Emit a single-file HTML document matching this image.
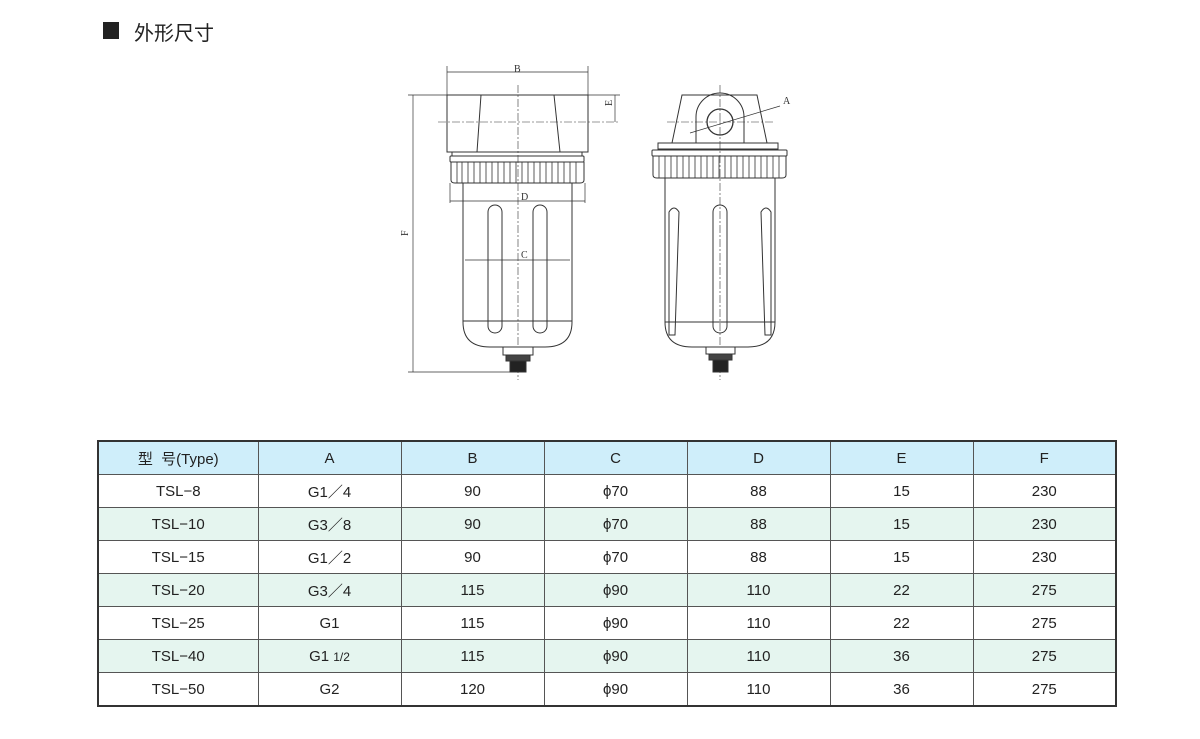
<!DOCTYPE html>
<html><head><meta charset="utf-8"><style>
body{margin:0;background:#fff;width:1200px;height:739px;position:relative;overflow:hidden;font-family:"Liberation Sans","Noto Sans CJK SC",sans-serif}
.t{position:absolute;left:134px;top:17px;font-size:20px;color:#222}
.sq{position:absolute;left:103px;top:22px;width:16px;height:17px;background:#222}
table{position:absolute;left:97px;top:440px;border-collapse:collapse;border:2px solid #333;font-size:15px;color:#222}
td{border:1px solid #555;text-align:center;height:32px;padding:0}
tr.h td{background:#cfeefa}
tr.g td{background:#e5f5ef}
</style></head><body>
<div class="sq"></div><div class="t">外形尺寸</div>
<svg style="position:absolute;left:0;top:0" width="1200" height="420" fill="none" stroke="#333" stroke-width="1">
<g font-family="Liberation Serif" font-size="10" fill="#333" stroke="none">
<text x="514" y="72">B</text><text x="521" y="200">D</text><text x="521" y="258">C</text>
<text x="783" y="104">A</text>
<text x="408" y="236" transform="rotate(-90 408 236)">F</text>
<text x="612" y="106" transform="rotate(-90 612 106)">E</text>
</g>
<g stroke-width="0.7">
<line x1="447" y1="72" x2="588" y2="72"/><line x1="447" y1="66" x2="447" y2="95"/><line x1="588" y1="66" x2="588" y2="95"/>
<line x1="413" y1="95" x2="413" y2="372"/><line x1="408" y1="95" x2="447" y2="95"/><line x1="408" y1="372" x2="510" y2="372"/>
<line x1="615" y1="95" x2="615" y2="122"/><line x1="588" y1="95" x2="620" y2="95"/>
<line x1="450" y1="201" x2="585" y2="201"/><line x1="450" y1="183" x2="450" y2="203"/><line x1="585" y1="183" x2="585" y2="203"/>
<line x1="465" y1="260" x2="570" y2="260"/>
<line x1="690" y1="133" x2="780" y2="106"/>
</g>
<g stroke-dasharray="8,2,2,2" stroke-width="0.6">
<line x1="518" y1="85" x2="518" y2="380"/><line x1="438" y1="122" x2="620" y2="122"/>
<line x1="720" y1="85" x2="720" y2="380"/><line x1="667" y1="122" x2="775" y2="122"/>
</g>
<!-- left view -->
<rect x="447" y="95" width="141" height="57"/>
<path d="M481 95 L554 95 L560 152 M477 152 L481 95"/>
<rect x="452" y="152" width="130" height="4"/>
<rect x="450" y="156" width="134" height="6" rx="1"/>
<path d="M451 162 L451 180 Q451 183 455 183 L580 183 Q584 183 584 180 L584 162"/>
<g stroke-width="0.8"><path d="M457 162v21M462 162v21M468 162v21M474 162v21M480 162v21M486 162v21M492 162v21M498 162v21M504 162v21M510 162v21M516 162v21M522 162v21M528 162v21M534 162v21M540 162v21M546 162v21M552 162v21M558 162v21M564 162v21M570 162v21M576 162v21"/></g>
<path d="M463 183 L463 322 Q463 347 490 347 L545 347 Q572 347 572 322 L572 183"/>
<line x1="463" y1="321" x2="572" y2="321"/>
<rect x="488" y="205" width="14" height="128" rx="7"/><rect x="533" y="205" width="14" height="128" rx="7"/>
<rect x="503" y="347" width="30" height="8" fill="#fff"/>
<rect x="506" y="355" width="24" height="6" fill="#444"/>
<rect x="510" y="361" width="16" height="11" fill="#222"/>
<!-- right view -->
<path d="M672 143 L682 95 L757 95 L767 143"/>
<path d="M696 143 L696 117 A24 24 0 0 1 744 117 L744 143"/>
<circle cx="720" cy="122" r="13" stroke-width="1.3"/>
<rect x="658" y="143" width="120" height="6"/>
<rect x="652" y="150" width="135" height="6" rx="1"/>
<path d="M653 156 L653 175 Q653 178 657 178 L782 178 Q786 178 786 175 L786 156"/>
<g stroke-width="0.8"><path d="M659 156v22M665 156v22M671 156v22M677 156v22M683 156v22M689 156v22M695 156v22M701 156v22M707 156v22M713 156v22M719 156v22M725 156v22M731 156v22M737 156v22M743 156v22M749 156v22M755 156v22M761 156v22M767 156v22M773 156v22M779 156v22"/></g>
<path d="M665 178 L665 322 Q665 347 692 347 L748 347 Q775 347 775 322 L775 178"/>
<line x1="665" y1="322" x2="775" y2="322"/>
<path d="M669 335 L669 212 Q674 204 679 212 L675 335 Z"/>
<path d="M771 335 L771 212 Q766 204 761 212 L765 335 Z"/>
<rect x="713" y="205" width="14" height="128" rx="7"/>
<rect x="706" y="347" width="29" height="7" fill="#fff"/>
<rect x="709" y="354" width="23" height="6" fill="#444"/>
<rect x="713" y="360" width="15" height="12" fill="#222"/>
</svg>
<table>
<colgroup><col style="width:160px"><col style="width:143px"><col style="width:143px"><col style="width:143px"><col style="width:143px"><col style="width:143px"><col style="width:143px"></colgroup>
<tr class="h"><td>型&nbsp;&nbsp;号(Type)</td><td>A</td><td>B</td><td>C</td><td>D</td><td>E</td><td>F</td></tr>
<tr><td>TSL−8</td><td>G1／4</td><td>90</td><td>ϕ70</td><td>88</td><td>15</td><td>230</td></tr>
<tr class="g"><td>TSL−10</td><td>G3／8</td><td>90</td><td>ϕ70</td><td>88</td><td>15</td><td>230</td></tr>
<tr><td>TSL−15</td><td>G1／2</td><td>90</td><td>ϕ70</td><td>88</td><td>15</td><td>230</td></tr>
<tr class="g"><td>TSL−20</td><td>G3／4</td><td>115</td><td>ϕ90</td><td>110</td><td>22</td><td>275</td></tr>
<tr><td>TSL−25</td><td>G1</td><td>115</td><td>ϕ90</td><td>110</td><td>22</td><td>275</td></tr>
<tr class="g"><td>TSL−40</td><td>G1 <span style="font-size:12px">1/2</span></td><td>115</td><td>ϕ90</td><td>110</td><td>36</td><td>275</td></tr>
<tr><td>TSL−50</td><td>G2</td><td>120</td><td>ϕ90</td><td>110</td><td>36</td><td>275</td></tr>
</table>
</body></html>
